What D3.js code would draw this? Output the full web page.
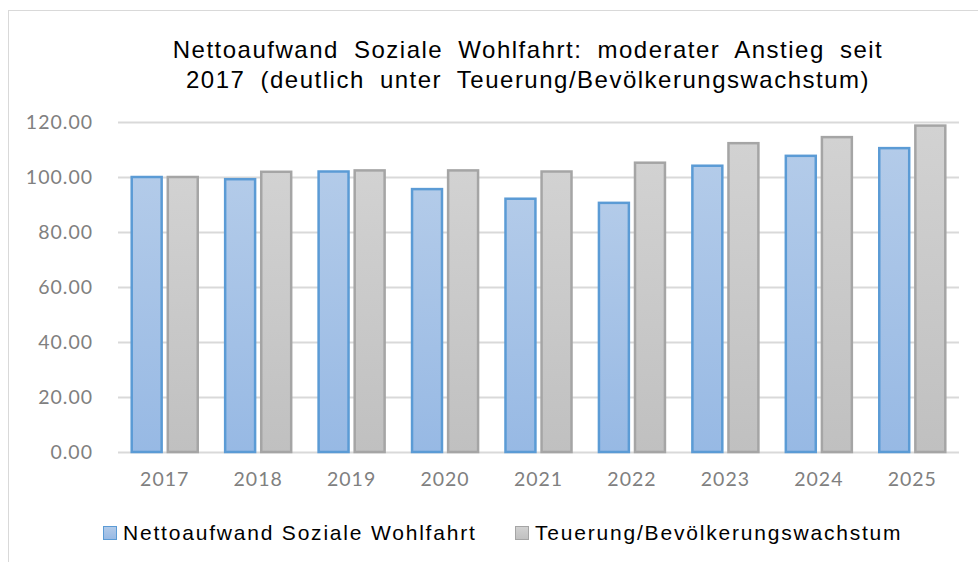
<!DOCTYPE html>
<html>
<head>
<meta charset="utf-8">
<script src="https://cdn.jsdelivr.net/npm/d3@7"></script>
<style>
  body { margin: 0; background: #fff; }
  svg { display: block; }
</style>
</head>
<body>
<div id="chart"></div>
<script>
// chart values
var years = ["2017", "2018", "2019", "2020", "2021", "2022", "2023", "2024", "2025"];
var seriesNames = ["Nettoaufwand Soziale Wohlfahrt", "Teuerung/Bevölkerungswachstum"];
var nettoaufwand = [100.0, 99.2, 102.0, 95.6, 92.1, 90.6, 104.1, 107.7, 110.5];
var teuerung = [100.0, 101.9, 102.4, 102.4, 102.0, 105.2, 112.3, 114.5, 118.7];
var yTicks = [0, 20, 40, 60, 80, 100, 120];
var titleLines = ["Nettoaufwand Soziale Wohlfahrt: moderater Anstieg seit",
                  "2017 (deutlich unter Teuerung/Bevölkerungswachstum)"];

var width = 978, height = 562;
var margin = {top: 122, right: 19, bottom: 110, left: 118}; // plot area 118..959, 122..452

var svg = d3.select("#chart").append("svg")
    .attr("width", width)
    .attr("height", height);

// gradients for the bar fills
var defs = svg.append("defs");
var fills = [
  {id: "gBlue", top: "#b3cbe9", bottom: "#97b9e4"},
  {id: "gGray", top: "#d2d2d2", bottom: "#c0c0c0"}
];
fills.forEach(function (f) {
  var g = defs.append("linearGradient").attr("id", f.id)
      .attr("x1", 0).attr("y1", 0).attr("x2", 0).attr("y2", 1);
  g.append("stop").attr("offset", "0%").attr("stop-color", f.top);
  g.append("stop").attr("offset", "100%").attr("stop-color", f.bottom);
});
var strokes = ["#5b9bd5", "#a5a5a5"];

// outer chart frame
svg.append("rect")
    .attr("x", 8.5).attr("y", 10.5)
    .attr("width", width + 20).attr("height", height + 20)
    .attr("fill", "none").attr("stroke", "#d9d9d9").attr("stroke-width", 1);

// title
svg.append("text")
    .attr("x", 528).attr("y", 58)
    .attr("text-anchor", "middle")
    .style("font-family", "'Liberation Sans', Arial, sans-serif")
    .style("font-size", "24px")
    .style("letter-spacing", "1.5px")
    .style("word-spacing", "7px")
    .style("fill", "#000")
    .selectAll("tspan").data(titleLines).enter().append("tspan")
    .attr("x", 528)
    .attr("dy", function (d, i) { return i ? 30 : 0; })
    .text(function (d) { return d; });

var x0 = d3.scaleBand()
    .domain(years)
    .range([margin.left, width - margin.right])
    .padding(0);

var x1 = d3.scaleBand()
    .domain(seriesNames)
    .range([0, x0.bandwidth()])
    .paddingInner(0.17)
    .paddingOuter(0.38);

var y = d3.scaleLinear()
    .domain([0, 120])
    .range([height - margin.bottom, margin.top]);

// gridlines
svg.append("g")
    .selectAll("line").data(yTicks).enter().append("line")
    .attr("x1", margin.left).attr("x2", width - margin.right)
    .attr("y1", function (d) { return Math.round(y(d)) + 0.5; })
    .attr("y2", function (d) { return Math.round(y(d)) + 0.5; })
    .attr("stroke", "#d9d9d9")
    .attr("stroke-width", 2);

// y axis labels
var yAxis = d3.axisLeft(y).tickValues(yTicks).tickFormat(d3.format(".2f")).tickSize(0).tickPadding(25);
var gy = svg.append("g").attr("transform", "translate(" + margin.left + ",0)").call(yAxis);
gy.select(".domain").remove();
gy.selectAll("text")
    .style("font-family", "Lato, 'Open Sans', sans-serif")
    .style("font-size", "19.5px")
    .style("letter-spacing", "1px")
    .style("fill", "#808080");

// x axis labels
var xAxis = d3.axisBottom(x0).tickSize(0).tickPadding(20);
var gx = svg.append("g").attr("transform", "translate(0," + (height - margin.bottom) + ")").call(xAxis);
gx.select(".domain").remove();
gx.selectAll("text")
    .style("font-family", "Lato, 'Open Sans', sans-serif")
    .style("font-size", "19.5px")
    .style("letter-spacing", "1px")
    .style("fill", "#808080");

// bars
var rows = years.map(function (yr, i) {
  return {year: yr, values: [nettoaufwand[i], teuerung[i]]};
});

var groups = svg.append("g").selectAll("g").data(rows).enter().append("g")
    .attr("transform", function (d) { return "translate(" + x0(d.year) + ",0)"; });

groups.selectAll("rect")
    .data(function (d) { return d.values.map(function (v, j) { return {name: seriesNames[j], value: v, j: j}; }); })
    .enter().append("rect")
    .attr("x", function (d) { return x1(d.name); })
    .attr("y", function (d) { return y(d.value); })
    .attr("width", x1.bandwidth())
    .attr("height", function (d) { return y(0) - y(d.value); })
    .attr("fill", function (d) { return d.j ? "url(#gGray)" : "url(#gBlue)"; })
    .attr("stroke", function (d) { return strokes[d.j]; })
    .attr("stroke-width", 2.5);

// legend
var legendPos = [103, 515];
var legend = svg.append("g").selectAll("g").data(seriesNames).enter().append("g")
    .attr("transform", function (d, i) { return "translate(" + legendPos[i] + ",526)"; });
legend.append("rect")
    .attr("x", 0.5).attr("y", 0.5)
    .attr("width", 13).attr("height", 13)
    .attr("fill", function (d, i) { return i ? "url(#gGray)" : "url(#gBlue)"; })
    .attr("stroke", function (d, i) { return strokes[i]; })
    .attr("stroke-width", 1);
legend.append("text")
    .attr("x", 20).attr("y", 14)
    .style("font-family", "'Liberation Sans', Arial, sans-serif")
    .style("font-size", "21px")
    .style("letter-spacing", "1.8px")
    .style("fill", "#000")
    .text(function (d) { return d; });
</script>
</body>
</html>
